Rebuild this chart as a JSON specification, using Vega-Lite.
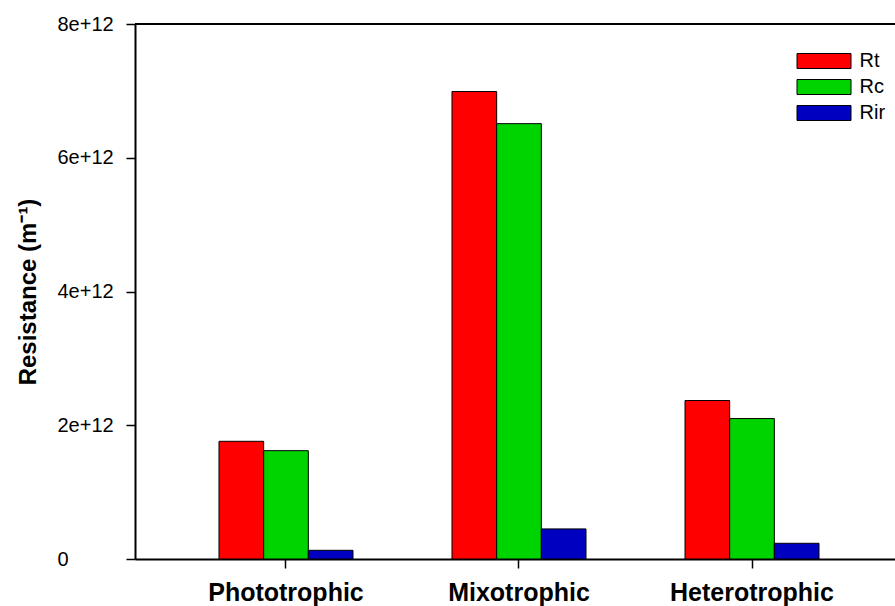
{
  "$schema": "https://vega.github.io/schema/vega-lite/v6.json",
  "width": 760,
  "height": 535,
  "autosize": {"type": "none"},
  "padding": {"left": 135, "top": 24, "right": 0, "bottom": 47},
  "background": "white",
  "config": {"view": {"stroke": null}, "font": "Liberation Sans"},
  "data": {
    "values": [
      {"category": "Phototrophic", "series": "Rt", "value": 1.76e12},
      {"category": "Phototrophic", "series": "Rc", "value": 1.62e12},
      {"category": "Phototrophic", "series": "Rir", "value": 0.13e12},
      {"category": "Mixotrophic", "series": "Rt", "value": 6.99e12},
      {"category": "Mixotrophic", "series": "Rc", "value": 6.51e12},
      {"category": "Mixotrophic", "series": "Rir", "value": 0.45e12},
      {"category": "Heterotrophic", "series": "Rt", "value": 2.37e12},
      {"category": "Heterotrophic", "series": "Rc", "value": 2.10e12},
      {"category": "Heterotrophic", "series": "Rir", "value": 0.235e12}
    ]
  },
  "layer": [
    {
      "mark": {"type": "bar", "stroke": "black", "strokeWidth": 1},
      "encoding": {
        "x": {
          "field": "category",
          "type": "nominal",
          "sort": ["Phototrophic", "Mixotrophic", "Heterotrophic"],
          "scale": {"paddingInner": 0.4249, "paddingOuter": 0.3433, "align": 0.525},
          "axis": {
            "title": null,
            "labelAngle": 0,
            "labelFont": "Liberation Sans",
            "labelFontSize": 25,
            "labelFontWeight": "bold",
            "labelColor": "black",
            "domainColor": "black",
            "domainWidth": 2,
            "tickColor": "black",
            "tickSize": 9,
            "tickWidth": 1.5,
            "labelPadding": 12,
            "grid": false
          }
        },
        "xOffset": {
          "field": "series",
          "type": "nominal",
          "sort": ["Rt", "Rc", "Rir"],
          "scale": {"paddingInner": 0, "paddingOuter": 0}
        },
        "y": {
          "field": "value",
          "type": "quantitative",
          "scale": {"domain": [0, 8e12], "nice": false},
          "axis": {
            "values": [0, 2e12, 4e12, 6e12, 8e12],
            "labelExpr": "datum.value == 0 ? '0' : (datum.value / 1e12) + 'e+12'",
            "labelFont": "Liberation Sans",
            "labelFontSize": 20,
            "labelColor": "black",
            "labelAlign": "left",
            "labelPadding": 69,
            "tickSize": 9,
            "tickColor": "black",
            "tickWidth": 1.5,
            "domainColor": "black",
            "domainWidth": 2,
            "grid": false,
            "title": "Resistance (m⁻¹)",
            "titleFont": "Liberation Sans",
            "titleFontSize": 24,
            "titleFontWeight": "bold",
            "titleColor": "black",
            "titleAngle": 270,
            "titleX": -100,
            "titleY": 267.5,
            "titleAlign": "center",
            "titleBaseline": "alphabetic"
          }
        },
        "color": {
          "field": "series",
          "type": "nominal",
          "sort": ["Rt", "Rc", "Rir"],
          "scale": {"domain": ["Rt", "Rc", "Rir"], "range": ["#ff0000", "#00d400", "#0000c0"]},
          "legend": {
            "title": null,
            "orient": "none",
            "legendX": 679,
            "legendY": 27,
            "padding": 0,
            "symbolType": "M-3.6,-1H3.6V1H-3.6Z",
            "symbolSize": 225,
            "symbolStrokeColor": "black",
            "symbolStrokeWidth": 1,
            "symbolOpacity": 1,
            "labelFont": "Liberation Sans",
            "labelFontSize": 20,
            "labelColor": "black",
            "labelOffset": 25.5,
            "rowPadding": 6
          }
        }
      }
    },
    {
      "data": {"values": [{}]},
      "mark": {"type": "rule", "color": "black", "strokeWidth": 2},
      "encoding": {"y": {"datum": 8e12}}
    }
  ]
}
